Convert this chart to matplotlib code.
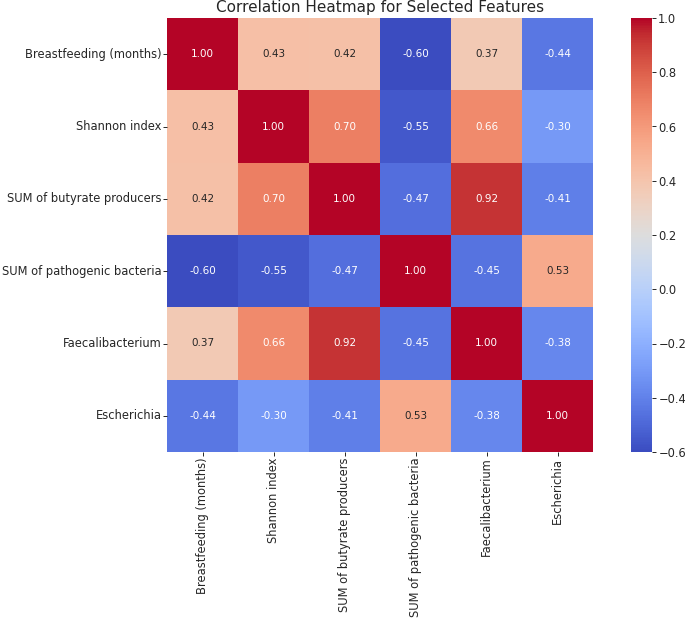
import matplotlib
matplotlib.use("Agg")
import matplotlib.pyplot as plt
import seaborn as sns
import numpy as np
import pandas as pd

features = ["Breastfeeding (months)", "Shannon index", "SUM of butyrate producers",
            "SUM of pathogenic bacteria", "Faecalibacterium", "Escherichia"]
row_breast = [1.00, 0.43, 0.42, -0.60, 0.37, -0.44]
row_shannon = [0.43, 1.00, 0.70, -0.55, 0.66, -0.30]
row_butyrate = [0.42, 0.70, 1.00, -0.47, 0.92, -0.41]
row_pathogen = [-0.60, -0.55, -0.47, 1.00, -0.45, 0.53]
row_faecali = [0.37, 0.66, 0.92, -0.45, 1.00, -0.38]
row_escher = [-0.44, -0.30, -0.41, 0.53, -0.38, 1.00]

corr = pd.DataFrame([row_breast, row_shannon, row_butyrate, row_pathogen, row_faecali, row_escher],
                    index=features, columns=features)

fs = 8.3
fig = plt.figure(figsize=(6.85, 6.19), dpi=100)
ax = fig.add_axes([167/685, 1-452/619, 426/685, 434/619])
cax = fig.add_axes([631/685, 1-452/619, 21/685, 434/619])
sns.heatmap(corr, annot=True, fmt=".2f", cmap="coolwarm", ax=ax, cbar_ax=cax,
            annot_kws={"fontsize": 7.5})
ax.set_title("Correlation Heatmap for Selected Features", fontsize=11, pad=4, color="#262626")
ax.tick_params(labelsize=fs, length=3, width=0.7, pad=1, colors="#262626")
cax.tick_params(labelsize=fs, length=3, width=0.7, pad=1.5, colors="#262626")
ax.set_xticklabels(features, rotation=90)
ax.set_yticklabels(features, rotation=0)
fig.savefig("out.png", dpi=100)
